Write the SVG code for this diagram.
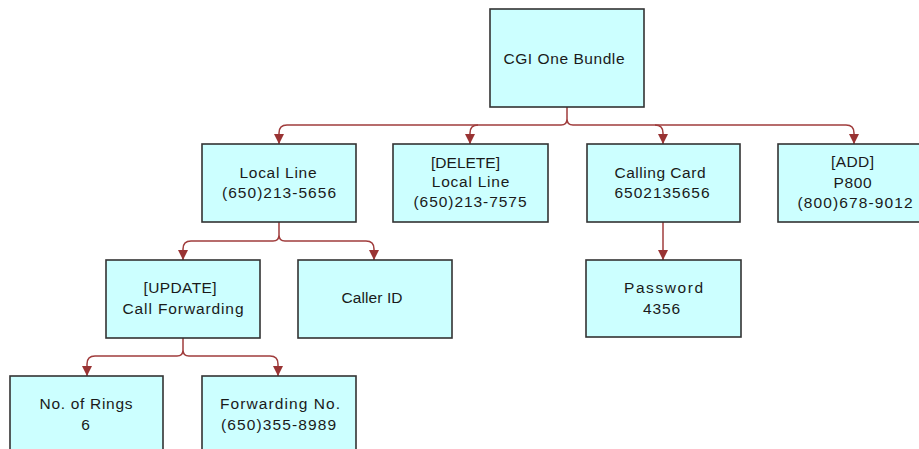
<svg xmlns="http://www.w3.org/2000/svg" width="919" height="449" viewBox="0 0 919 449">
<style>
.box{fill:#ccffff;stroke:#333333;stroke-width:1.6}
.t{font-family:"Liberation Sans",Arial,sans-serif;font-size:15.5px;fill:#1a1a1a;text-anchor:middle}
.c{fill:none;stroke:#a03c3c;stroke-width:1.5}
.a{marker-end:url(#ah)}
</style>
<defs>
<marker id="ah" markerUnits="userSpaceOnUse" markerWidth="11" markerHeight="11" refX="10" refY="5" orient="auto">
<path d="M0,0 L10,5 L0,10 Z" fill="#993333"/>
</marker>
</defs>
<rect width="919" height="449" fill="#ffffff"/>
<g id="connectors">
<path class="c" d="M567,107 V119 M561,125 Q567,125 567,119 Q567,125 573,125"/>
<path class="c a" d="M561,125 H287 Q279,125 279,133 V144"/>
<path class="c a" d="M478,125 Q470,125 470,133 V144"/>
<path class="c a" d="M573,125 H846 Q854,125 854,133 V144"/>
<path class="c a" d="M655,125 Q663,125 663,133 V144"/>
<path class="c" d="M279,222 V235 M273,241 Q279,241 279,235 Q279,241 285,241"/>
<path class="c a" d="M273,241 H191 Q183,241 183,249 V260"/>
<path class="c a" d="M285,241 H366 Q374,241 374,249 V260"/>
<path class="c" d="M183,338 V350 M177,356 Q183,356 183,350 Q183,356 189,356"/>
<path class="c a" d="M177,356 H95 Q87,356 87,364 V376"/>
<path class="c a" d="M189,356 H270 Q278,356 278,364 V376"/>
<path class="c a" d="M663,222 V260"/>
</g>
<g id="root">
<rect class="box" x="490" y="9" width="154" height="98"/>
<text class="t" x="564" y="63.5" textLength="121" lengthAdjust="spacing">CGI One Bundle</text>
</g>
<g id="localline">
<rect class="box" x="202" y="144" width="154" height="78"/>
<text class="t" x="278" y="177.5" textLength="77" lengthAdjust="spacing">Local Line</text>
<text class="t" x="279" y="198" textLength="114" lengthAdjust="spacing">(650)213-5656</text>
</g>
<g id="deleteline">
<rect class="box" x="393" y="144" width="155" height="78"/>
<text class="t" x="465.5" y="167.5" textLength="69" lengthAdjust="spacing">[DELETE]</text>
<text class="t" x="470.5" y="187" textLength="77.5" lengthAdjust="spacing">Local Line</text>
<text class="t" x="470" y="207" textLength="113" lengthAdjust="spacing">(650)213-7575</text>
</g>
<g id="callingcard">
<rect class="box" x="587" y="144" width="153" height="78"/>
<text class="t" x="660" y="177.5" textLength="91" lengthAdjust="spacing">Calling Card</text>
<text class="t" x="662" y="198" textLength="95" lengthAdjust="spacing">6502135656</text>
</g>
<g id="addp800">
<rect class="box" x="778" y="144" width="154" height="78"/>
<text class="t" x="852.5" y="167" textLength="43" lengthAdjust="spacing">[ADD]</text>
<text class="t" x="852.5" y="187.5" textLength="38" lengthAdjust="spacing">P800</text>
<text class="t" x="855" y="207.5" textLength="115" lengthAdjust="spacing">(800)678-9012</text>
</g>
<g id="callforwarding">
<rect class="box" x="106" y="260" width="154" height="78"/>
<text class="t" x="180" y="293" textLength="73" lengthAdjust="spacing">[UPDATE]</text>
<text class="t" x="183" y="314" textLength="121" lengthAdjust="spacing">Call Forwarding</text>
</g>
<g id="callerid">
<rect class="box" x="298" y="260" width="154" height="78"/>
<text class="t" x="372" y="303" textLength="61" lengthAdjust="spacing">Caller ID</text>
</g>
<g id="password">
<rect class="box" x="586" y="260" width="155" height="77"/>
<text class="t" x="663.5" y="293" textLength="79" lengthAdjust="spacing">Password</text>
<text class="t" x="661.5" y="313.5" textLength="37" lengthAdjust="spacing">4356</text>
</g>
<g id="rings">
<rect class="box" x="10" y="376" width="153" height="90"/>
<text class="t" x="86" y="409" textLength="93" lengthAdjust="spacing">No. of Rings</text>
<text class="t" x="85.5" y="429.5">6</text>
</g>
<g id="forwardingno">
<rect class="box" x="202" y="376" width="154" height="90"/>
<text class="t" x="280" y="409" textLength="120" lengthAdjust="spacing">Forwarding No.</text>
<text class="t" x="278.5" y="429.5" textLength="115" lengthAdjust="spacing">(650)355-8989</text>
</g>
</svg>
